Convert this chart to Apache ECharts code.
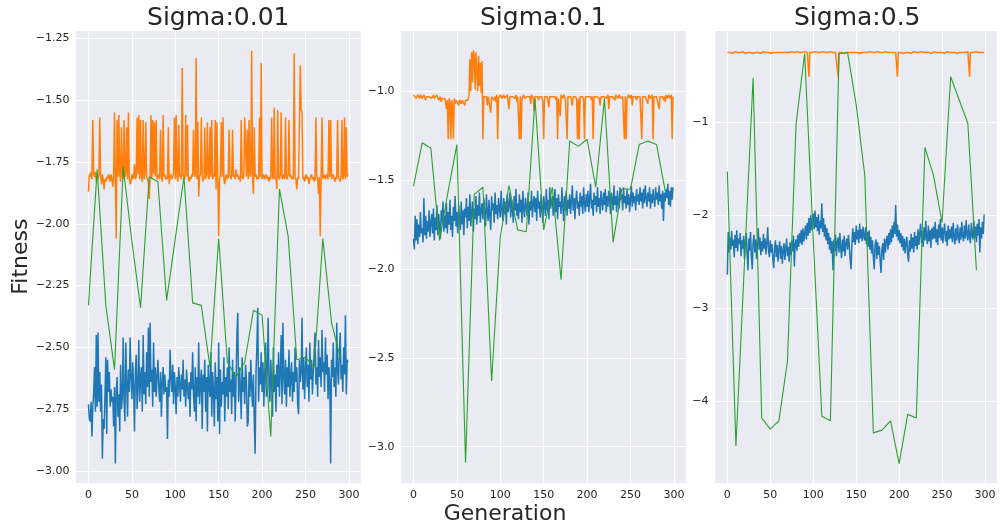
<!DOCTYPE html>
<html><head><meta charset="utf-8">
<script src="https://cdn.jsdelivr.net/npm/echarts@6/dist/echarts.min.js"></script>
<style>html,body{margin:0;padding:0;background:#fff}#c{width:1000px;height:527px}</style>
</head><body><div id="c"></div>
<script>
const titles = ['Sigma:0.01', 'Sigma:0.1', 'Sigma:0.5'];
const xLabel = 'Generation';
const yLabel = 'Fitness';
const yStep = [0.25, 0.5, 1];
const yDecimals = [2, 1, 0];
const yRange = [[-3.0497, -1.2164], [-3.206, -0.655], [-4.882, -0.0075]];
const xRange = [-14.95, 313.95];
const xStep = 50;
const greenEvery = 10;

const blue1 = [
-2.73,-2.79,-2.80,-2.72,-2.86,-2.74,-2.69,-2.58,-2.76,-2.45,-2.74,-2.44,-2.72,-2.60,-2.76,-2.65,-2.95,-2.79,-2.83,-2.70,
-2.54,-2.85,-2.55,-2.68,-2.60,-2.74,-2.67,-2.72,-2.70,-2.82,-2.66,-2.97,-2.68,-2.62,-2.78,-2.69,-2.84,-2.57,-2.75,-2.70,
-2.46,-2.72,-2.80,-2.48,-2.64,-2.78,-2.59,-2.68,-2.46,-2.62,-2.71,-2.56,-2.66,-2.84,-2.60,-2.53,-2.75,-2.66,-2.47,-2.72,
-2.62,-2.58,-2.76,-2.45,-2.69,-2.60,-2.73,-2.52,-2.66,-2.42,-2.70,-2.40,-2.64,-2.59,-2.74,-2.48,-2.68,-2.58,-2.70,-2.62,
-2.55,-2.66,-2.72,-2.60,-2.78,-2.64,-2.58,-2.69,-2.61,-2.68,-2.66,-2.87,-2.63,-2.70,-2.51,-2.62,-2.68,-2.57,-2.73,-2.60,
-2.66,-2.77,-2.62,-2.70,-2.58,-2.65,-2.72,-2.61,-2.67,-2.55,-2.70,-2.63,-2.74,-2.59,-2.66,-2.71,-2.64,-2.78,-2.60,-2.67,
-2.52,-2.69,-2.76,-2.58,-2.80,-2.62,-2.70,-2.48,-2.73,-2.64,-2.59,-2.83,-2.61,-2.68,-2.55,-2.76,-2.62,-2.84,-2.57,-2.66,
-2.70,-2.52,-2.78,-2.60,-2.67,-2.82,-2.56,-2.71,-2.62,-2.80,-2.48,-2.85,-2.59,-2.74,-2.64,-2.69,-2.54,-2.80,-2.62,-2.70,
-2.58,-2.75,-2.50,-2.68,-2.63,-2.77,-2.55,-2.70,-2.60,-2.80,-2.65,-2.45,-2.36,-2.72,-2.58,-2.66,-2.79,-2.54,-2.68,-2.62,
-2.73,-2.57,-2.64,-2.82,-2.80,-2.60,-2.70,-2.55,-2.66,-2.74,-2.61,-2.80,-2.93,-2.60,-2.50,-2.34,-2.72,-2.58,-2.65,-2.52,
-2.68,-2.56,-2.74,-2.62,-2.48,-2.70,-2.59,-2.38,-2.66,-2.72,-2.55,-2.64,-2.78,-2.50,-2.68,-2.61,-2.76,-2.57,-2.66,-2.52,
-2.70,-2.60,-2.45,-2.73,-2.40,-2.62,-2.69,-2.55,-2.74,-2.58,-2.66,-2.51,-2.70,-2.62,-2.56,-2.72,-2.60,-2.68,-2.50,-2.64,
-2.58,-2.73,-2.77,-2.55,-2.64,-2.60,-2.38,-2.67,-2.54,-2.71,-2.59,-2.50,-2.66,-2.57,-2.72,-2.48,-2.63,-2.55,-2.69,-2.60,
-2.52,-2.44,-2.65,-2.58,-2.70,-2.47,-2.62,-2.54,-2.66,-2.43,-2.60,-2.56,-2.68,-2.46,-2.61,-2.53,-2.71,-2.58,-2.64,-2.97,
-2.55,-2.62,-2.48,-2.66,-2.58,-2.70,-2.40,-2.59,-2.65,-2.52,-2.44,-2.63,-2.57,-2.68,-2.50,-2.61,-2.37,-2.69,-2.55,-2.56];

const orange1 = [
-1.87,-1.80,-1.81,-1.79,-1.82,-1.58,-1.80,-1.81,-1.79,-1.83,-1.81,-1.82,-1.80,-1.57,-1.81,-1.84,-1.80,-1.82,-1.86,-1.82,
-1.83,-1.81,-1.82,-1.80,-1.81,-1.83,-1.80,-1.82,-1.85,-1.81,-1.55,-1.82,-2.06,-1.58,-1.81,-1.56,-1.80,-1.83,-1.61,-1.81,
-1.82,-1.58,-1.81,-1.80,-1.61,-1.82,-1.55,-1.81,-1.84,-1.83,-1.80,-1.82,-1.81,-1.76,-1.82,-1.81,-1.57,-1.80,-1.56,-1.82,
-1.58,-1.81,-1.83,-1.58,-1.82,-1.80,-1.59,-1.81,-1.82,-1.83,-1.90,-1.81,-1.56,-1.82,-1.58,-1.80,-1.59,-1.81,-1.58,-1.82,
-1.81,-1.80,-1.82,-1.62,-1.81,-1.83,-1.56,-1.81,-1.80,-1.82,-1.81,-1.82,-1.61,-1.84,-1.81,-1.80,-1.82,-1.81,-1.80,-1.57,
-1.82,-1.56,-1.81,-1.83,-1.60,-1.81,-1.80,-1.82,-1.37,-1.81,-1.80,-1.82,-1.56,-1.81,-1.60,-1.82,-1.83,-1.81,-1.82,-1.80,
-1.81,-1.62,-1.80,-1.81,-1.33,-1.82,-1.59,-1.89,-1.81,-1.80,-1.57,-1.81,-1.83,-1.81,-1.61,-1.82,-1.80,-1.59,-1.81,-1.82,
-1.61,-1.81,-1.58,-1.82,-1.80,-1.81,-1.58,-1.86,-1.59,-1.81,-2.05,-1.82,-1.80,-1.59,-1.81,-1.57,-1.82,-1.84,-1.81,-1.80,
-1.82,-1.81,-1.62,-1.80,-1.82,-1.81,-1.62,-1.81,-1.80,-1.82,-1.78,-1.81,-1.80,-1.82,-1.81,-1.83,-1.58,-1.81,-1.82,-1.80,
-1.57,-1.57,-1.81,-1.62,-1.82,-1.58,-1.81,-1.80,-1.30,-1.82,-1.88,-1.61,-1.81,-1.80,-1.82,-1.81,-1.82,-1.57,-1.81,-1.35,
-1.82,-1.81,-1.80,-1.82,-1.81,-1.80,-1.82,-1.81,-1.83,-1.81,-1.82,-1.57,-1.81,-1.82,-1.53,-1.82,-1.81,-1.86,-1.54,-1.81,
-1.82,-1.80,-1.55,-1.82,-1.81,-1.80,-1.82,-1.57,-1.81,-1.82,-1.80,-1.58,-1.81,-1.80,-1.82,-1.81,-1.82,-1.31,-1.81,-1.82,
-1.86,-1.81,-1.82,-1.82,-1.36,-1.54,-1.55,-1.82,-1.81,-1.83,-1.81,-1.80,-1.82,-1.81,-1.84,-1.82,-1.81,-1.80,-1.82,-1.81,
-1.83,-1.82,-1.57,-1.81,-1.82,-1.88,-1.81,-2.05,-1.81,-1.57,-1.82,-1.80,-1.81,-1.82,-1.80,-1.81,-1.82,-1.58,-1.81,-1.58,
-1.82,-1.81,-1.80,-1.82,-1.83,-1.81,-1.82,-1.58,-1.81,-1.82,-1.83,-1.81,-1.58,-1.82,-1.81,-1.57,-1.82,-1.61,-1.81,-1.80];

const green1 = [-2.33,-1.78,-2.33,-2.59,-1.77,-2.07,-2.34,-1.81,-1.83,-2.31,-2.06,-1.81,-2.32,-2.33,-2.58,
-2.06,-2.56,-2.62,-2.56,-2.35,-2.37,-2.86,-1.86,-2.05,-2.55,-2.54,-2.58,-2.06,-2.40,-2.54];

const blue2 = [
-1.83,-1.89,-1.70,-1.84,-1.72,-1.86,-1.75,-1.82,-1.68,-1.80,-1.77,-1.85,-1.60,-1.81,-1.70,-1.83,-1.73,-1.79,-1.67,-1.82,
-1.74,-1.69,-1.80,-1.66,-1.84,-1.71,-1.78,-1.64,-1.81,-1.69,-1.76,-1.83,-1.67,-1.74,-1.62,-1.79,-1.70,-1.77,-1.63,-1.80,
-1.68,-1.75,-1.61,-1.78,-1.70,-1.82,-1.65,-1.73,-1.59,-1.76,-1.68,-1.80,-1.64,-1.72,-1.78,-1.62,-1.75,-1.67,-1.81,-1.66,
-1.71,-1.60,-1.77,-1.65,-1.73,-1.58,-1.76,-1.68,-1.62,-1.79,-1.66,-1.72,-1.59,-1.75,-1.64,-1.70,-1.57,-1.74,-1.67,-1.63,
-1.72,-1.60,-1.69,-1.76,-1.58,-1.68,-1.73,-1.61,-1.70,-1.78,-1.59,-1.67,-1.63,-1.74,-1.57,-1.69,-1.64,-1.72,-1.60,-1.66,
-1.71,-1.56,-1.67,-1.73,-1.60,-1.69,-1.62,-1.75,-1.58,-1.68,-1.64,-1.57,-1.71,-1.61,-1.66,-1.74,-1.59,-1.67,-1.55,-1.70,
-1.63,-1.72,-1.58,-1.68,-1.61,-1.74,-1.56,-1.66,-1.71,-1.60,-1.65,-1.70,-1.57,-1.75,-1.62,-1.67,-1.56,-1.71,-1.63,-1.59,
-1.68,-1.60,-1.73,-1.56,-1.66,-1.62,-1.71,-1.58,-1.67,-1.74,-1.59,-1.64,-1.70,-1.55,-1.67,-1.61,-1.72,-1.54,-1.66,-1.62,
-1.59,-1.70,-1.63,-1.55,-1.68,-1.60,-1.72,-1.58,-1.65,-1.62,-1.69,-1.54,-1.64,-1.73,-1.59,-1.67,-1.56,-1.70,-1.61,-1.66,
-1.58,-1.69,-1.62,-1.53,-1.67,-1.60,-1.72,-1.61,-1.56,-1.66,-1.62,-1.70,-1.57,-1.65,-1.59,-1.69,-1.54,-1.63,-1.68,-1.58,
-1.65,-1.56,-1.68,-1.60,-1.52,-1.66,-1.61,-1.70,-1.57,-1.64,-1.59,-1.68,-1.54,-1.65,-1.60,-1.69,-1.56,-1.62,-1.67,-1.57,
-1.64,-1.55,-1.68,-1.59,-1.65,-1.56,-1.62,-1.69,-1.57,-1.61,-1.67,-1.53,-1.64,-1.59,-1.68,-1.56,-1.63,-1.66,-1.54,-1.61,
-1.58,-1.67,-1.54,-1.63,-1.59,-1.66,-1.55,-1.64,-1.58,-1.68,-1.61,-1.53,-1.65,-1.57,-1.63,-1.59,-1.67,-1.55,-1.62,-1.58,
-1.64,-1.54,-1.62,-1.57,-1.66,-1.55,-1.63,-1.53,-1.60,-1.65,-1.57,-1.62,-1.54,-1.66,-1.58,-1.63,-1.55,-1.61,-1.65,-1.54,
-1.61,-1.57,-1.64,-1.53,-1.62,-1.58,-1.66,-1.56,-1.73,-1.57,-1.62,-1.55,-1.60,-1.52,-1.64,-1.56,-1.65,-1.54,-1.61,-1.54];

const orange2 = [
-1.02,-1.03,-1.02,-1.04,-1.03,-1.02,-1.03,-1.04,-1.02,-1.03,-1.04,-1.03,-1.02,-1.03,-1.05,-1.03,-1.02,-1.04,-1.03,-1.02,
-1.03,-1.04,-1.03,-1.02,-1.04,-1.03,-1.04,-1.02,-1.03,-1.05,-1.04,-1.03,-1.06,-1.04,-1.03,-1.05,-1.04,-1.06,-1.10,-1.05,
-1.27,-1.04,-1.06,-1.27,-1.05,-1.08,-1.27,-1.04,-1.07,-1.05,-1.06,-1.04,-1.08,-1.05,-1.06,-1.07,-1.05,-1.04,-1.06,-1.08,
-1.05,-1.06,-1.04,-1.05,-1.02,-0.82,-1.00,-0.78,-0.95,-0.77,-0.80,-0.99,-0.78,-0.79,-1.00,-0.80,-0.97,-0.84,-1.01,-0.83,
-1.27,-1.03,-1.02,-1.04,-1.03,-1.08,-1.03,-1.02,-1.04,-1.12,-1.03,-1.02,-1.03,-1.05,-1.03,-1.06,-1.02,-1.27,-1.04,-1.03,
-1.02,-1.03,-1.04,-1.03,-1.02,-1.04,-1.03,-1.05,-1.02,-1.03,-1.10,-1.03,-1.02,-1.04,-1.03,-1.02,-1.03,-1.04,-1.02,-1.06,
-1.03,-1.04,-1.27,-1.03,-1.27,-1.04,-1.03,-1.02,-1.04,-1.03,-1.05,-1.03,-1.02,-1.04,-1.03,-1.07,-1.02,-1.03,-1.04,-1.11,
-1.03,-1.02,-1.04,-1.03,-1.05,-1.03,-1.02,-1.04,-1.03,-1.06,-1.27,-1.03,-1.02,-1.04,-1.03,-1.02,-1.09,-1.03,-1.04,-1.02,
-1.03,-1.04,-1.02,-1.03,-1.05,-1.03,-1.27,-1.04,-1.03,-1.14,-1.02,-1.03,-1.04,-1.02,-1.03,-1.04,-1.03,-1.27,-1.03,-1.02,
-1.04,-1.03,-1.02,-1.08,-1.03,-1.04,-1.02,-1.03,-1.05,-1.27,-1.04,-1.27,-1.03,-1.02,-1.04,-1.03,-1.05,-1.27,-1.03,-1.02,
-1.04,-1.03,-1.02,-1.04,-1.03,-1.05,-1.03,-1.27,-1.03,-1.02,-1.04,-1.03,-1.02,-1.03,-1.04,-1.08,-1.03,-1.02,-1.04,-1.03,
-1.02,-1.03,-1.04,-1.03,-1.02,-1.10,-1.03,-1.04,-1.02,-1.03,-1.04,-1.03,-1.05,-1.02,-1.03,-1.04,-1.03,-1.02,-1.04,-1.03,
-1.05,-1.03,-1.04,-1.27,-1.03,-1.27,-1.04,-1.03,-1.02,-1.04,-1.03,-1.02,-1.08,-1.03,-1.04,-1.02,-1.03,-1.05,-1.03,-1.02,
-1.04,-1.03,-1.02,-1.27,-1.03,-1.04,-1.02,-1.03,-1.04,-1.03,-1.07,-1.02,-1.03,-1.04,-1.03,-1.02,-1.27,-1.03,-1.04,-1.02,
-1.03,-1.04,-1.02,-1.10,-1.03,-1.04,-1.02,-1.03,-1.05,-1.03,-1.06,-1.02,-1.04,-1.03,-1.02,-1.04,-1.03,-1.02,-1.27,-1.03];

const green2 = [-1.535,-1.29,-1.32,-1.84,-1.56,-1.30,-3.09,-1.58,-1.54,-2.63,-1.82,-1.53,-1.78,-1.79,-1.04,
-1.78,-1.54,-2.06,-1.28,-1.31,-1.27,-1.54,-1.04,-1.85,-1.55,-1.55,-1.30,-1.28,-1.30,-1.56];

const blue3 = [
-2.64,-2.18,-2.40,-2.24,-2.37,-2.17,-2.33,-2.26,-2.45,-2.21,-2.35,-2.16,-2.39,-2.25,-2.31,-2.19,-2.44,-2.27,-2.36,-2.22,
-2.47,-2.28,-2.19,-2.41,-2.59,-2.25,-2.38,-2.18,-2.45,-2.58,-2.29,-2.21,-2.40,-2.26,-2.47,-2.30,-2.14,-2.37,-2.24,-2.43,
-2.28,-2.39,-2.20,-2.36,-2.25,-2.42,-2.30,-2.13,-2.38,-2.45,-2.27,-2.40,-2.31,-2.48,-2.57,-2.35,-2.27,-2.45,-2.32,-2.50,
-2.36,-2.28,-2.47,-2.33,-2.52,-2.38,-2.30,-2.48,-2.36,-2.25,-2.44,-2.34,-2.50,-2.29,-2.43,-2.27,-2.39,-2.22,-2.55,-2.31,
-2.26,-2.38,-2.21,-2.34,-2.19,-2.30,-2.16,-2.32,-2.14,-2.28,-2.20,-2.11,-2.26,-2.08,-2.22,-2.03,-2.19,-2.00,-2.16,-2.05,
-1.98,-2.15,-1.95,-2.13,-2.02,-2.17,-1.99,-2.21,-2.06,-2.14,-1.87,-2.18,-2.03,-2.23,-2.10,-2.27,-2.14,-2.31,-2.19,-2.37,
-2.24,-2.41,-2.28,-2.59,-2.26,-2.38,-2.21,-2.44,-2.29,-2.24,-2.40,-2.19,-2.35,-2.46,-2.26,-2.39,-2.22,-2.44,-2.30,-2.25,
-2.37,-2.21,-2.33,-2.47,-2.58,-2.31,-2.14,-2.29,-2.18,-2.32,-2.11,-2.26,-2.16,-2.30,-2.09,-2.25,-2.15,-2.28,-2.12,-2.23,
-2.27,-2.13,-2.31,-2.18,-2.34,-2.16,-2.37,-2.23,-2.41,-2.27,-2.45,-2.58,-2.32,-2.26,-2.47,-2.29,-2.43,-2.33,-2.50,-2.62,
-2.36,-2.30,-2.48,-2.25,-2.40,-2.28,-2.22,-2.37,-2.19,-2.32,-2.15,-2.29,-2.11,-2.24,-2.07,-2.20,-1.89,-2.23,-2.10,-2.27,
-2.16,-2.30,-2.19,-2.34,-2.22,-2.38,-2.25,-2.41,-2.29,-2.23,-2.43,-2.50,-2.27,-2.39,-2.20,-2.36,-2.24,-2.40,-2.18,-2.33,
-2.22,-2.37,-2.15,-2.32,-2.19,-2.09,-2.30,-2.17,-2.34,-2.13,-2.27,-2.06,-2.24,-2.31,-2.11,-2.28,-2.16,-2.35,-2.14,-2.26,
-2.12,-2.25,-2.07,-2.29,-2.15,-2.32,-2.10,-2.24,-2.04,-2.27,-2.13,-2.30,-2.16,-2.09,-2.28,-2.17,-2.33,-2.11,-2.26,-2.15,
-2.25,-2.12,-2.29,-2.08,-2.24,-2.31,-2.14,-2.27,-2.10,-2.23,-2.30,-2.13,-2.26,-2.07,-2.22,-2.28,-2.11,-2.25,-2.05,-2.21,
-2.27,-2.10,-2.23,-2.30,-2.08,-2.21,-2.26,-2.06,-2.24,-2.12,-2.29,-2.09,-2.22,-2.04,-2.40,-2.13,-2.25,-2.07,-2.20,-1.99];

const orange3 = [
-0.25,-0.25,-0.24,-0.25,-0.25,-0.25,-0.26,-0.25,-0.25,-0.24,-0.25,-0.25,-0.25,-0.25,-0.26,-0.25,-0.25,-0.25,-0.24,-0.25,
-0.25,-0.26,-0.25,-0.25,-0.25,-0.25,-0.24,-0.25,-0.25,-0.25,-0.26,-0.25,-0.25,-0.25,-0.24,-0.25,-0.25,-0.25,-0.25,-0.26,
-0.25,-0.25,-0.24,-0.25,-0.25,-0.25,-0.25,-0.23,-0.25,-0.25,-0.25,-0.26,-0.25,-0.25,-0.25,-0.24,-0.25,-0.25,-0.25,-0.25,
-0.25,-0.25,-0.26,-0.25,-0.25,-0.24,-0.25,-0.25,-0.25,-0.25,-0.25,-0.26,-0.25,-0.25,-0.25,-0.24,-0.25,-0.25,-0.25,-0.25,
-0.25,-0.24,-0.25,-0.25,-0.25,-0.26,-0.25,-0.25,-0.25,-0.25,-0.24,-0.25,-0.25,-0.25,-0.25,-0.51,-0.25,-0.25,-0.26,-0.25,
-0.25,-0.25,-0.24,-0.25,-0.25,-0.25,-0.25,-0.26,-0.25,-0.25,-0.25,-0.24,-0.25,-0.25,-0.25,-0.25,-0.26,-0.25,-0.25,-0.25,
-0.24,-0.25,-0.25,-0.25,-0.25,-0.26,-0.25,-0.25,-0.25,-0.51,-0.25,-0.25,-0.24,-0.25,-0.25,-0.25,-0.26,-0.25,-0.25,-0.25,
-0.25,-0.24,-0.25,-0.25,-0.25,-0.25,-0.26,-0.25,-0.25,-0.24,-0.25,-0.25,-0.25,-0.25,-0.26,-0.25,-0.25,-0.25,-0.24,-0.25,
-0.25,-0.25,-0.26,-0.25,-0.25,-0.25,-0.24,-0.25,-0.25,-0.25,-0.25,-0.26,-0.25,-0.25,-0.25,-0.24,-0.25,-0.25,-0.25,-0.25,
-0.26,-0.25,-0.25,-0.25,-0.24,-0.25,-0.25,-0.25,-0.25,-0.26,-0.25,-0.25,-0.24,-0.25,-0.25,-0.25,-0.25,-0.26,-0.51,-0.25,
-0.25,-0.24,-0.25,-0.25,-0.25,-0.26,-0.25,-0.25,-0.25,-0.24,-0.25,-0.25,-0.25,-0.25,-0.26,-0.25,-0.25,-0.24,-0.25,-0.25,
-0.25,-0.25,-0.26,-0.25,-0.25,-0.25,-0.24,-0.25,-0.25,-0.25,-0.26,-0.25,-0.25,-0.24,-0.25,-0.25,-0.25,-0.25,-0.26,-0.25,
-0.25,-0.24,-0.25,-0.25,-0.25,-0.26,-0.25,-0.25,-0.25,-0.24,-0.25,-0.25,-0.25,-0.26,-0.25,-0.25,-0.24,-0.25,-0.25,-0.25,
-0.25,-0.26,-0.25,-0.25,-0.24,-0.25,-0.25,-0.25,-0.26,-0.25,-0.25,-0.25,-0.24,-0.25,-0.25,-0.25,-0.26,-0.25,-0.25,-0.25,
-0.24,-0.25,-0.51,-0.25,-0.25,-0.26,-0.25,-0.25,-0.25,-0.24,-0.25,-0.25,-0.25,-0.26,-0.25,-0.25,-0.24,-0.25,-0.25,-0.25];

const green3 = [-1.53,-4.48,-2.50,-0.52,-4.18,-4.30,-4.21,-3.57,-1.02,-0.26,-2.25,-4.16,-4.21,-0.26,-0.25,
-0.81,-1.57,-4.34,-4.31,-4.21,-4.67,-4.14,-4.18,-1.27,-1.57,-2.08,-0.51,-0.76,-1.01,-2.59];

const panels = [
  { blue: blue1, orange: orange1, green: green1 },
  { blue: blue2, orange: orange2, green: green2 },
  { blue: blue3, orange: orange3, green: green3 }
];

const colors = { blue: '#1f77b4', orange: '#ff7f0e', green: '#2ca02c' };
const FONT = 'DejaVu Sans';
const TXT = '#262626';
const gridLeft = [75.5, 400.5, 714.5];
const gridW = 285.5, gridTop = 30, gridH = 453.3;

function isMult(v, step) { const r = v / step; return Math.abs(r - Math.round(r)) < 1e-6; }
function fmtNum(v, d) {
  const s = Math.abs(v).toFixed(d);
  return (v < -1e-9 ? '\u2212' : '') + s;
}

const grid = [], xAxis = [], yAxis = [], series = [], graphic = [];
panels.forEach((p, k) => {
  grid.push({ left: gridLeft[k], top: gridTop, width: gridW, height: gridH, show: true,
    backgroundColor: '#eaeaf2', borderWidth: 0, containLabel: false });
  xAxis.push({ type: 'value', gridIndex: k, min: xRange[0], max: xRange[1],
    minInterval: xStep, maxInterval: xStep, splitNumber: 6,
    axisLine: { show: false }, axisTick: { show: false },
    axisLabel: { fontFamily: FONT, fontSize: 11, color: TXT, margin: 6,
      formatter: v => isMult(v, xStep) ? String(Math.round(v)) : '' },
    splitLine: { show: true, lineStyle: { color: '#ffffff', width: 1.2 } } });
  yAxis.push({ type: 'value', gridIndex: k, min: yRange[k][0], max: yRange[k][1],
    minInterval: yStep[k], maxInterval: yStep[k], splitNumber: 5,
    axisLine: { show: false }, axisTick: { show: false },
    axisLabel: { fontFamily: FONT, fontSize: 11, color: TXT, margin: 6,
      formatter: v => isMult(v, yStep[k]) ? fmtNum(v, yDecimals[k]) : '' },
    splitLine: { show: true, lineStyle: { color: '#ffffff', width: 1.2 } } });
  ['blue', 'orange', 'green'].forEach(name => {
    const arr = p[name];
    const step = name === 'green' ? greenEvery : 1;
    series.push({ type: 'line', xAxisIndex: k, yAxisIndex: k, symbol: 'none', showSymbol: false,
      animation: false, silent: true,
      lineStyle: { color: colors[name], width: name === 'green' ? 1.1 : 1.5 },
      itemStyle: { color: colors[name] },
      data: arr.map((v, i) => [i * step, v]) });
  });
  graphic.push({ type: 'text', x: gridLeft[k] + gridW / 2, y: 18,
    style: { text: titles[k], font: '25px "' + FONT + '"', fill: TXT, textAlign: 'center', textVerticalAlign: 'middle' } });
});
graphic.push({ type: 'text', x: 505, y: 514, style: { text: xLabel, font: '22px "' + FONT + '"', fill: TXT, textAlign: 'center', textVerticalAlign: 'middle' } });
graphic.push({ type: 'text', x: 21, y: gridTop + gridH / 2, rotation: Math.PI / 2,
  style: { text: yLabel, font: '22px "' + FONT + '"', fill: TXT, textAlign: 'center', textVerticalAlign: 'middle' } });

const chart = echarts.init(document.getElementById('c'), null, { renderer: 'canvas' });
chart.setOption({ animation: false, backgroundColor: '#ffffff', grid, xAxis, yAxis, series, graphic });
</script></body></html>
